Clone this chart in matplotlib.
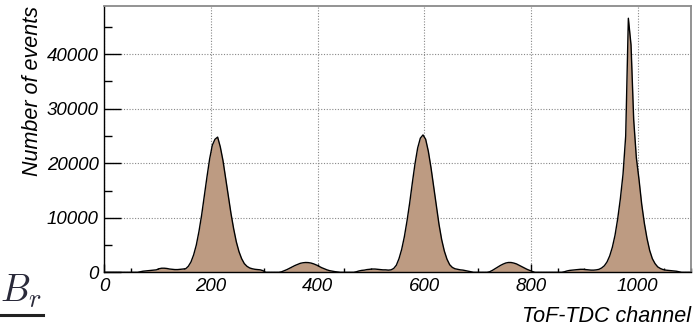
import numpy as np
import matplotlib
matplotlib.use("Agg")
import matplotlib.pyplot as plt
from matplotlib.ticker import MultipleLocator

# ToF-TDC spectrum, 5-channel bins from 0 to 1100
bin_width = 5
counts = [
    0, 0, 0, 0, 0, 0, 0, 0, 0, 0,                                      # 0-45
    0, 0, 0, 100, 200, 250, 300, 350, 400, 450,                        # 50-95
    650, 750, 750, 700, 600, 550, 500, 500, 550, 600,                  # 100-145
    650, 1100, 1900, 3200, 5000, 7500, 10500, 14000, 17500, 20800,     # 150-195
    23300, 24400, 24800, 23000, 20500, 17300, 14000, 10800, 8000, 5600,
    3800, 2500, 1600, 1100, 800, 650, 550, 500, 450, 300,              # 250-295
    0, 0, 0, 0, 0, 0, 100, 300, 500, 750,                              # 300-345
    1000, 1250, 1450, 1650, 1750, 1800, 1780, 1700, 1550, 1350,
    1100, 850, 650, 450, 300, 200, 120, 60, 0, 0,                      # 400-445
    0, 0, 0, 0, 100, 250, 350, 400, 500, 550,
    600, 600, 550, 500, 450, 450, 400, 450, 700, 1300,                 # 500-545
    2500, 4200, 6500, 9400, 12700, 16400, 19900, 22800, 24600, 25200,
    24400, 22200, 19200, 15700, 12100, 8800, 6000, 3900, 2400, 1400,   # 600-645
    900, 650, 550, 450, 400, 300, 200, 100, 0, 0,
    0, 0, 0, 0, 100, 350, 650, 950, 1250, 1500,                        # 700-745
    1700, 1800, 1800, 1700, 1550, 1300, 1050, 800, 550, 350,
    150, 0, 0, 0, 0, 0, 0, 0, 0, 0,                                    # 800-845
    0, 0, 100, 250, 350, 400, 450, 500, 550, 550,
    500, 450, 400, 400, 450, 550, 800, 1200, 1900, 3000,               # 900-945
    4600, 6800, 9800, 13500, 18000, 25000, 46600, 41700, 28000, 21000,
    17000, 12500, 9000, 6200, 4000, 2500, 1600, 1000, 700, 500,        # 1000-1045
    400, 350, 300, 250, 200, 100, 0, 0, 0, 0,
]
centers = np.arange(len(counts)) * bin_width + bin_width / 2

x_major = [0, 200, 400, 600, 800, 1000]
y_major = [0, 10000, 20000, 30000, 40000]

plt.rcParams["font.family"] = ["Liberation Sans", "DejaVu Sans"]
plt.rcParams["font.style"] = "italic"
plt.rcParams["mathtext.fontset"] = "cm"

fig = plt.figure(figsize=(6.99, 3.26), dpi=100)
ax = fig.add_axes([0.1492, 0.1647, 0.8394, 0.8178])

ax.fill_between(centers, counts, 0, color="#bd9b82", linewidth=0, zorder=2)
ax.plot(centers, counts, color="black", linewidth=1.0, zorder=3)

ax.set_xlim(0, 1100)
ax.set_ylim(0, 48900)
ax.set_xticks(x_major)
ax.set_yticks(y_major)
ax.xaxis.set_minor_locator(MultipleLocator(50))
ax.yaxis.set_minor_locator(MultipleLocator(5000))
ax.tick_params(axis="both", which="both", direction="in", top=False, right=False,
               labelsize=13.5, color="black", width=1)
ax.tick_params(axis="x", which="major", length=5.8, pad=4)
ax.tick_params(axis="x", which="minor", length=2.9)
ax.tick_params(axis="y", which="major", length=12.2, pad=4)
ax.tick_params(axis="y", which="minor", length=6.1)

ax.grid(True, which="major", linestyle=(0, (1, 1.5)), color="#888888", linewidth=0.8, zorder=1)
ax.set_axisbelow(True)

for side in ("left", "bottom"):
    ax.spines[side].set_color("black")
    ax.spines[side].set_linewidth(1.0)
for side in ("top", "right"):
    ax.spines[side].set_color("#8a8a8a")
    ax.spines[side].set_linewidth(1.3)

ax.set_xlabel("ToF-TDC channel", fontsize=15.5, loc="right", labelpad=8)
ax.set_ylabel("Number of events", fontsize=15.5, loc="top", labelpad=3)

# cropped symbol and rule from the source page at the lower left
fig.text(0.0, 0.075, r"$B_r$", fontsize=27, color="#2a2a3a", style="normal")
fig.add_artist(plt.Line2D([0, 0.062], [0.035, 0.035], color="#222222", linewidth=2.2,
                          transform=fig.transFigure))

fig.savefig("out.png", dpi=100)
